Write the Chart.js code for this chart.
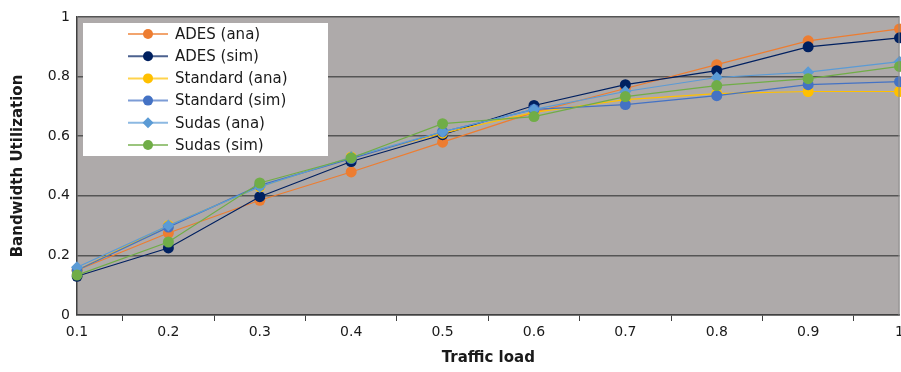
<!DOCTYPE html>
<html>
<head>
<meta charset="utf-8">
<script src="https://cdn.jsdelivr.net/npm/chart.js@4.4.1/dist/chart.umd.min.js"></script>
<style>
  html, body { margin: 0; padding: 0; background: #fff; overflow: hidden; }
  #wrap { width: 901px; height: 372px; overflow: hidden; }
</style>
</head>
<body>
<div id="wrap"><canvas id="chart" width="907" height="372"></canvas></div>
<script>
// --- Daten ---
const trafficLoad = ["0.1","0.2","0.3","0.4","0.5","0.6","0.7","0.8","0.9","1"];

const adesAna     = [0.15, 0.275, 0.385, 0.48, 0.58, 0.68, 0.76, 0.84, 0.92, 0.96];
const adesSim     = [0.13, 0.225, 0.397, 0.515, 0.605, 0.703, 0.773, 0.82, 0.90, 0.93];
const standardAna = [0.15, 0.30, 0.43, 0.53, 0.61, 0.68, 0.723, 0.743, 0.75, 0.75];
const standardSim = [0.15, 0.295, 0.435, 0.525, 0.615, 0.69, 0.706, 0.736, 0.773, 0.783];
const sudasAna    = [0.16, 0.30, 0.43, 0.53, 0.615, 0.69, 0.75, 0.797, 0.815, 0.85];
const sudasSim    = [0.134, 0.245, 0.443, 0.527, 0.642, 0.666, 0.733, 0.77, 0.793, 0.834];

const FONT = "'DejaVu Sans', Verdana, sans-serif";

function series(label, data, color, idx, style){
    return {
        label, data,
        borderColor: color, backgroundColor: color,
        borderWidth: 1.2,
        pointStyle: style || "circle",
        pointRadius: style === "rectRot" ? 6 : 5.5,
        pointBorderWidth: 0,
        pointHoverRadius: 5.5,
        order: 5 - idx,          // spätere Reihen oben zeichnen
        tension: 0, fill: false
    };
}

// Hintergrund der Zeichenfläche
const plotBg = {
    id: "plotBg",
    beforeDraw(chart){
        const {ctx, chartArea: a} = chart;
        ctx.save();
        ctx.fillStyle = "#aeaaaa";
        ctx.fillRect(a.left, a.top, a.right - a.left, a.bottom - a.top);
        ctx.restore();
    },
    afterDatasetsDraw(chart){
        const {ctx, chartArea: a} = chart;
        ctx.save();
        ctx.strokeStyle = "#8c8c8c";
        ctx.lineWidth = 1;
        ctx.beginPath();
        ctx.moveTo(a.right - 0.5, a.top); ctx.lineTo(a.right - 0.5, a.bottom);
        ctx.stroke();
        ctx.restore();
    }
};

// Legende im Diagramm (Kasten oben links)
const boxLegend = {
    id: "boxLegend",
    afterDraw(chart){
        const {ctx, chartArea: a} = chart;
        const x0 = a.left + 6, y0 = a.top + 6, w = 245, h = 133, row = 22.2;
        ctx.save();
        ctx.fillStyle = "#ffffff";
        ctx.fillRect(x0, y0, w, h);
        ctx.font = "15px " + FONT;
        ctx.textBaseline = "middle";
        const items = chart.data.datasets;
        items.forEach((ds, i) => {
            const y = y0 + 11 + i * row;
            ctx.globalAlpha = 0.7;
            ctx.strokeStyle = ds.borderColor;
            ctx.lineWidth = 2;
            ctx.beginPath();
            ctx.moveTo(x0 + 45, y); ctx.lineTo(x0 + 85, y);
            ctx.stroke();
            ctx.globalAlpha = 1;
            ctx.fillStyle = ds.backgroundColor;
            ctx.beginPath();
            if (ds.pointStyle === "rectRot") {
                ctx.moveTo(x0 + 65, y - 5.5); ctx.lineTo(x0 + 70.5, y);
                ctx.lineTo(x0 + 65, y + 5.5); ctx.lineTo(x0 + 59.5, y);
                ctx.closePath();
            } else {
                ctx.arc(x0 + 65, y, 5, 0, Math.PI * 2);
            }
            ctx.fill();
            ctx.fillStyle = "#1a1a1a";
            ctx.fillText(ds.label, x0 + 92, y + 1);
        });
        ctx.restore();
    }
};

new Chart(document.getElementById("chart"), {
    type: "line",
    data: {
        labels: trafficLoad,
        datasets: [
            series("ADES (ana)", adesAna, "#ed7d31", 0),
            series("ADES (sim)", adesSim, "#002060", 1),
            series("Standard (ana)", standardAna, "#ffc000", 2),
            series("Standard (sim)", standardSim, "#4472c4", 3),
            series("Sudas (ana)", sudasAna, "#5b9bd5", 4, "rectRot"),
            series("Sudas (sim)", sudasSim, "#70ad47", 5)
        ]
    },
    options: {
        responsive: false,
        animation: false,
        layout: { padding: { top: 17, right: 0, left: 0, bottom: 0 } },
        plugins: { legend: { display: false }, tooltip: { enabled: false } },
        scales: {
            x: {
                offset: false,
                border: { color: "#404040", width: 1.5 },
                grid: { offset: true, drawOnChartArea: false, drawTicks: true, tickLength: 6, color: "#404040" },
                ticks: { color: "#1a1a1a", font: { family: FONT, size: 14 }, padding: 3, maxRotation: 0, autoSkip: false },
                title: { display: true, text: "Traffic load", color: "#1a1a1a",
                         font: { family: FONT, size: 15, weight: "bold" }, padding: { top: 4, bottom: 5 } },
                afterFit(s){ s.height = 57; }
            },
            y: {
                min: 0, max: 1,
                border: { color: "#404040", width: 1.5 },
                grid: { color: "#555555", lineWidth: 1.5, drawTicks: false },
                ticks: { stepSize: 0.2, color: "#1a1a1a", font: { family: FONT, size: 14 }, padding: 7,
                         callback: v => String(+v.toFixed(1)) },
                title: { display: true, text: "Bandwidth Utilization", color: "#1a1a1a",
                         font: { family: FONT, size: 15, weight: "bold" }, padding: { top: 9, bottom: 0 } },
                afterFit(s){ s.width = 77; }
            }
        }
    },
    plugins: [plotBg, boxLegend]
});
</script>
</body>
</html>
